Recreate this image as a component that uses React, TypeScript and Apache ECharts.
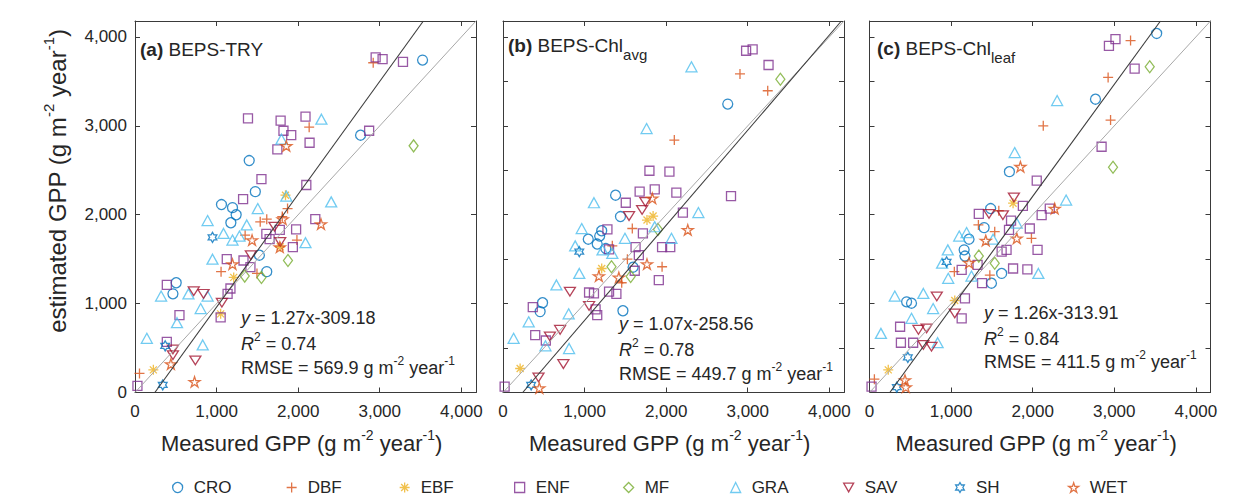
import React, { useEffect, useRef } from "react";
import * as echarts from "echarts";

// ---------------- data ----------------
const CATEGORIES = ["CRO", "DBF", "EBF", "ENF", "MF", "GRA", "SAV", "SH", "WET"];
const PANEL_LABELS = ["(a)", "(b)", "(c)"];
const MODEL_NAMES = ["BEPS-TRY", "BEPS-Chl", "BEPS-Chl"];
const MODEL_SUBSCRIPTS = ["", "avg", "leaf"];
const FIT_SLOPE = [1.27, 1.07, 1.26];
const FIT_INTERCEPT = [-309.18, -258.56, -313.91];
const FIT_R2 = ["0.74", "0.78", "0.84"];
const FIT_RMSE = ["569.9", "449.7", "411.5"];
const AXIS_MAX = 4180;
const X_TICK_STEP = 1000;
const Y_TICK_STEP = [1000, 500, 500];

// Panel (a) BEPS-TRY  [measured, estimated]
const A_CRO = [[1400, 2610], [1475, 2260], [1060, 2115], [1195, 2080], [1240, 2000], [1175, 1910], [1525, 1545], [1615, 1360], [505, 1235], [465, 1110], [3525, 3740], [2765, 2895]];
const A_DBF = [[2920, 3710], [2135, 2985], [1870, 2070], [1805, 1980], [1535, 1920], [1615, 1950], [1350, 1770], [1985, 1715], [1055, 1360], [1495, 1340], [55, 215]];
const A_EBF = [[1845, 2220], [1210, 1295], [1050, 885], [225, 255], [1780, 1640]];
const A_ENF = [[2950, 3770], [3035, 3750], [3285, 3720], [1385, 3085], [1785, 3060], [2090, 3105], [1820, 2945], [1915, 2895], [1745, 2735], [2140, 2810], [2870, 2945], [1550, 2400], [2100, 2335], [1325, 2175], [2210, 1950], [1610, 1785], [1650, 1725], [1775, 1830], [1975, 1835], [1935, 1635], [1125, 1500], [1330, 1485], [1415, 1410], [390, 1210], [1170, 1170], [1135, 1110], [545, 870], [1050, 845], [390, 570], [30, 75]];
const A_MF = [[3415, 2775], [1875, 1485], [1345, 1310], [1550, 1295]];
const A_GRA = [[2285, 3075], [1795, 2850], [1855, 2210], [2405, 2145], [1505, 2070], [890, 1935], [1370, 1885], [1085, 1790], [1195, 1715], [1280, 1760], [2090, 1685], [950, 1500], [320, 1085], [655, 1110], [890, 1085], [805, 945], [515, 785], [145, 610], [830, 535]];
const A_SAV = [[1710, 1865], [1780, 1695], [1420, 1545], [720, 1140], [840, 1110], [1065, 1010], [465, 485], [465, 420], [740, 360]];
const A_SH = [[950, 1745], [370, 525], [340, 85]];
const A_WET = [[1855, 2775], [1810, 1950], [2280, 1895], [1435, 1715], [1195, 1445], [1775, 1635], [440, 320], [730, 120]];

// Panel (b) BEPS-Chl avg
const B_CRO = [[2755, 3245], [1380, 2220], [1440, 1980], [1210, 1820], [1045, 1725], [1155, 1670], [1185, 1760], [1260, 1620], [1595, 1410], [1470, 920], [485, 1010], [455, 910]];
const B_DBF = [[2905, 3585], [3245, 3395], [2100, 2840], [1585, 1845], [1340, 1650], [1525, 1500], [1950, 1415], [1455, 1235]];
const B_EBF = [[1840, 1985], [1765, 1940], [1210, 1395], [210, 270]];
const B_ENF = [[2980, 3845], [3060, 3860], [3255, 3685], [1795, 2495], [2040, 2485], [2795, 2210], [1505, 2135], [1675, 2260], [1860, 2285], [2125, 2250], [2205, 2025], [1280, 1835], [1715, 1790], [1950, 1635], [2050, 1635], [1625, 1635], [1300, 1610], [1665, 1545], [1615, 1370], [1910, 1265], [1055, 1125], [1115, 1115], [1300, 1135], [1390, 1110], [1135, 935], [1155, 870], [365, 960], [395, 645], [525, 585], [20, 65]];
const B_MF = [[3400, 3525], [1900, 1835], [1330, 1415], [1565, 1305]];
const B_GRA = [[2310, 3665], [1760, 2970], [1115, 2135], [2395, 2025], [1860, 1865], [965, 1845], [1495, 1735], [2065, 1735], [885, 1650], [1220, 1605], [1340, 1565], [935, 1340], [655, 1210], [315, 795], [805, 885], [130, 610], [520, 525], [810, 495]];
const B_SAV = [[1745, 2145], [1705, 2055], [1545, 1985], [820, 1135], [1055, 975], [575, 630], [700, 705], [740, 320], [435, 170]];
const B_SH = [[935, 1585], [345, 85]];
const B_WET = [[1830, 2185], [2265, 1830], [1765, 1445], [1175, 1310], [1420, 1295], [445, 50]];

// Panel (c) BEPS-Chl leaf
const C_CRO = [[3520, 4040], [2770, 3300], [1715, 2485], [1485, 2070], [1405, 1855], [1220, 1725], [1160, 1605], [1170, 1535], [1495, 1230], [1620, 1340], [455, 1020], [515, 1005]];
const C_DBF = [[3200, 3960], [2925, 3545], [2130, 3000], [2955, 3065], [1585, 2045], [1335, 1885], [1535, 1810], [1985, 1735], [1040, 1360], [1475, 1320], [60, 150]];
const C_EBF = [[1760, 2130], [1045, 1035], [230, 255]];
const C_ENF = [[2935, 3900], [3015, 3975], [3250, 3645], [2845, 2765], [2050, 2385], [1880, 2100], [2210, 2070], [2110, 1995], [1340, 2010], [1735, 1935], [1710, 1830], [1965, 1845], [2060, 1605], [1620, 1585], [1680, 1605], [1325, 1435], [1130, 1380], [1380, 1230], [1760, 1395], [1935, 1385], [1170, 1060], [1130, 835], [375, 740], [385, 560], [535, 560], [25, 65]];
const C_MF = [[3435, 3665], [2985, 2535], [1340, 1535], [1535, 1455]];
const C_GRA = [[2300, 3285], [1780, 2700], [2410, 2165], [1805, 1905], [1515, 1725], [1100, 1760], [1190, 1800], [960, 1605], [890, 1455], [965, 1285], [1250, 1310], [2070, 1340], [310, 1085], [660, 1115], [515, 835], [780, 945], [140, 665], [835, 560]];
const C_SAV = [[1770, 2195], [1465, 2010], [1635, 1995], [825, 1080], [1045, 890], [600, 705], [700, 720], [660, 535], [760, 515]];
const C_SH = [[945, 1470], [470, 395], [335, 60]];
const C_WET = [[1850, 2540], [2270, 2070], [1805, 1735], [1425, 1710], [1220, 1460], [435, 140], [445, 60]];

const PANELS = [
  [A_CRO, A_DBF, A_EBF, A_ENF, A_MF, A_GRA, A_SAV, A_SH, A_WET],
  [B_CRO, B_DBF, B_EBF, B_ENF, B_MF, B_GRA, B_SAV, B_SH, B_WET],
  [C_CRO, C_DBF, C_EBF, C_ENF, C_MF, C_GRA, C_SAV, C_SH, C_WET],
];

// ---------------- styles ----------------
const FONT = "'Liberation Sans', Arial, Helvetica, sans-serif";
const TXT = "#262626";
const AXC = "#3a3a3a";
const COLORS: Record<string, string> = {
  CRO: "#0072BD", DBF: "#D95319", EBF: "#EDB120", ENF: "#7E2F8E", MF: "#77AC30",
  GRA: "#4DBEEE", SAV: "#A2142F", SH: "#0072BD", WET: "#D95319",
};
const SYMBOLS: Record<string, string> = {
  CRO: "circle",
  DBF: "path://M50,0L50,100M0,50L100,50",
  EBF: "path://M50,0L50,100M0,50L100,50M15,15L85,85M85,15L15,85",
  ENF: "rect",
  MF: "diamond",
  GRA: "triangle",
  SAV: "path://M0,0L100,0L50,87Z",
  SH: "path://M50,0L64.43,25L93.3,25L78.87,50L93.3,75L64.43,75L50,100L35.57,75L6.7,75L21.13,50L6.7,25L35.57,25Z",
  WET: "path://M50,0L61.23,34.55L97.55,34.55L68.17,55.9L79.39,90.45L50,69.1L20.61,90.45L31.83,55.9L2.45,34.55L38.77,34.55Z",
};
const SYMBOL_SIZES: Record<string, number | number[]> = {
  CRO: 10, DBF: 10, EBF: 10, ENF: 9, MF: [9, 12], GRA: [11, 10], SAV: [11, 10], SH: 10, WET: 11,
};

// ---------------- layout ----------------
const GRID_LEFT = [135, 503, 869.5];
const GRID_TOP = 21;
const GRID_W = 341;
const GRID_H = 371.5;
const ANN_X = [241, 619, 984];
const ANN_Y = [[318, 344, 368], [324, 350, 374], [313, 339, 362]];
const TITLE_X = [140, 508, 877];
const TITLE_Y = [49, 45, 48];
const XNAME_Y = 443;
const YNAME_X = 57;
const YNAME_Y = 181;
const LEGEND_X = [177, 291, 404, 519, 628, 735, 848, 960, 1073];
const LEGEND_Y = 489;

const fmt = (v: number) =>
  v % 1000 === 0 ? String(v).replace(/\B(?=(\d{3})+(?!\d))/g, ",") : "";

function buildOption() {
  const grid: any[] = [];
  const xAxis: any[] = [];
  const yAxis: any[] = [];
  const series: any[] = [];
  const graphic: any[] = [];

  const tick = { inside: true, length: 5, lineStyle: { color: AXC, width: 1 } };
  const line = { onZero: false, lineStyle: { color: AXC, width: 1 } };

  PANELS.forEach((panel, p) => {
    grid.push({ left: GRID_LEFT[p], top: GRID_TOP, width: GRID_W, height: GRID_H });
    xAxis.push({
      gridIndex: p, type: "value", min: 0, max: AXIS_MAX, interval: X_TICK_STEP, position: "bottom",
      axisLine: line, axisTick: tick, splitLine: { show: false },
      axisLabel: { color: TXT, fontSize: 17, fontFamily: FONT, margin: 10, formatter: fmt, showMaxLabel: false },
    });
    xAxis.push({
      gridIndex: p, type: "value", min: 0, max: AXIS_MAX, interval: X_TICK_STEP, position: "top",
      axisLine: line, axisTick: tick, splitLine: { show: false }, axisLabel: { show: false },
    });
    yAxis.push({
      gridIndex: p, type: "value", min: 0, max: AXIS_MAX, interval: Y_TICK_STEP[p], position: "left",
      axisLine: line, axisTick: tick, splitLine: { show: false },
      axisLabel: { show: p === 0, color: TXT, fontSize: 17, fontFamily: FONT, margin: 8, formatter: fmt, showMaxLabel: false },
    });
    yAxis.push({
      gridIndex: p, type: "value", min: 0, max: AXIS_MAX, interval: Y_TICK_STEP[p], position: "right",
      axisLine: line, axisTick: tick, splitLine: { show: false }, axisLabel: { show: false },
    });

    // 1:1 line
    series.push({
      type: "line", xAxisIndex: 2 * p, yAxisIndex: 2 * p, data: [[0, 0], [AXIS_MAX, AXIS_MAX]],
      symbol: "none", silent: true, lineStyle: { color: "#a8a8a8", width: 1 }, z: 4,
    });
    // regression line from the printed equation
    const m = FIT_SLOPE[p];
    const b = FIT_INTERCEPT[p];
    const xs = -b / m;
    const xe = Math.min((AXIS_MAX - b) / m, AXIS_MAX);
    series.push({
      type: "line", xAxisIndex: 2 * p, yAxisIndex: 2 * p, data: [[xs, 0], [xe, m * xe + b]],
      symbol: "none", silent: true, lineStyle: { color: "#3c3c3c", width: 1.1 }, z: 4,
    });

    panel.forEach((pts, k) => {
      const cat = CATEGORIES[k];
      series.push({
        type: "scatter", name: cat, xAxisIndex: 2 * p, yAxisIndex: 2 * p, data: pts,
        symbol: SYMBOLS[cat], symbolSize: SYMBOL_SIZES[cat], symbolKeepAspect: true,
        itemStyle: { color: "transparent", borderColor: COLORS[cat], borderWidth: 1.3 },
        clip: false, silent: true, z: 3,
      });
    });

    // panel title
    const base = { fontFamily: FONT, fontSize: 19, fill: TXT };
    graphic.push({
      type: "text", x: TITLE_X[p], y: TITLE_Y[p], z: 10,
      style: {
        ...base, lineHeight: 34, align: "left", verticalAlign: "middle",
        text: `{b|${PANEL_LABELS[p]}} ${MODEL_NAMES[p]}${MODEL_SUBSCRIPTS[p] ? `{s|${MODEL_SUBSCRIPTS[p]}}` : ""}`,
        rich: {
          b: { ...base, fontWeight: "bold", lineHeight: 34 },
          s: { fontFamily: FONT, fontSize: 15, fill: TXT, lineHeight: 14, verticalAlign: "bottom" },
        },
      },
    });

    // annotation
    const ab = { fontFamily: FONT, fontSize: 18, fill: TXT };
    const annRich = {
      i: { ...ab, fontStyle: "italic", lineHeight: 26 },
      sup: { fontFamily: FONT, fontSize: 12, fill: TXT, lineHeight: 12, verticalAlign: "top" },
    };
    const lines = [
      `{i|y} = ${m.toFixed(2)}x${b.toFixed(2)}`,
      `{i|R}{sup|2} = ${FIT_R2[p]}`,
      `RMSE = ${FIT_RMSE[p]} g m{sup|-2} year{sup|-1}`,
    ];
    lines.forEach((t, li) => {
      graphic.push({
        type: "text", x: ANN_X[p], y: ANN_Y[p][li], z: 10,
        style: { ...ab, lineHeight: 26, align: "left", verticalAlign: "middle", text: t, rich: annRich },
      });
    });

    // x-axis name
    const xb = { fontFamily: FONT, fontSize: 22, fill: TXT };
    graphic.push({
      type: "text", x: GRID_LEFT[p] + GRID_W / 2 - 4, y: XNAME_Y, z: 10,
      style: {
        ...xb, lineHeight: 30, align: "center", verticalAlign: "middle",
        text: "Measured GPP (g m{sup|-2} year{sup|-1})",
        rich: { sup: { fontFamily: FONT, fontSize: 14, fill: TXT, lineHeight: 14, verticalAlign: "top" } },
      },
    });
  });

  // y-axis name
  graphic.push({
    type: "text", x: YNAME_X, y: YNAME_Y, rotation: Math.PI / 2, z: 10,
    style: {
      fontFamily: FONT, fontSize: 24, fill: TXT, lineHeight: 32, align: "center", verticalAlign: "middle",
      text: "estimated GPP (g m{sup|-2} year{sup|-1})",
      rich: { sup: { fontFamily: FONT, fontSize: 15, fill: TXT, lineHeight: 15, verticalAlign: "top" } },
    },
  });

  const legend = CATEGORIES.map((c, i) => ({
    data: [c], left: LEGEND_X[i] - 5, top: LEGEND_Y - 10, padding: 0,
    itemWidth: 10, itemHeight: 10, selectedMode: false,
    itemStyle: { borderWidth: 1.3 },
    textStyle: { fontFamily: FONT, fontSize: 17, color: TXT, padding: [0, 0, 0, 6] },
  }));

  return {
    animation: false,
    backgroundColor: "#ffffff",
    textStyle: { fontFamily: FONT },
    grid, xAxis, yAxis, series, graphic, legend,
  };
}

export default function App() {
  const ref = useRef<HTMLDivElement>(null);
  useEffect(() => {
    if (!ref.current) return;
    const chart = echarts.init(ref.current, undefined, { renderer: "svg" });
    chart.setOption(buildOption());
    return () => chart.dispose();
  }, []);
  return (
    <div
      ref={ref}
      style={{ position: "fixed", left: 0, top: 0, width: 1254, height: 497, background: "#fff" }}
    />
  );
}
